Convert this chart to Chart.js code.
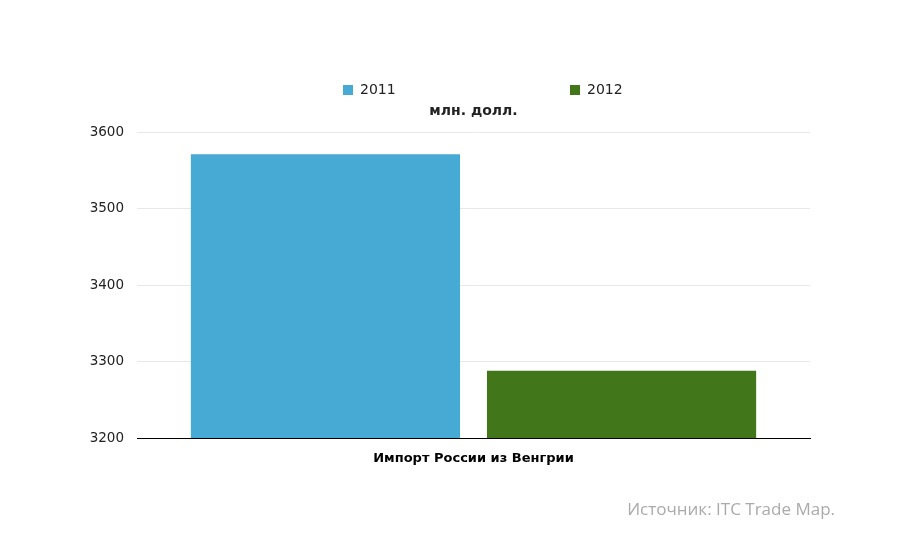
<!DOCTYPE html>
<html>
<head>
<meta charset="utf-8">
<script src="https://cdn.jsdelivr.net/npm/chart.js@4"></script>
<style>
  html, body { margin: 0; padding: 0; background: #fff; }
  #wrap { position: relative; width: 900px; height: 550px; }
  #source { position: absolute; right: 65px; top: 497px; font-family: "Open Sans", "DejaVu Sans", sans-serif; font-size: 17px; color: #aaaaaa; }
</style>
</head>
<body>
<div id="wrap">
  <canvas id="c" width="900" height="550"></canvas>
  <div id="source">Источник: ITC Trade Map.</div>
</div>
<script>
const categories = ["Импорт России из Венгрии"];
const seriesNames = ["2011", "2012"];
const values2011 = [3571];
const values2012 = [3288];
const unitLabel = "млн. долл.";
const colors = ["#46aad5", "#41761a"];

const legendPlugin = {
  id: 'customLegend',
  afterDraw(chart) {
    const ctx = chart.ctx;
    const area = chart.chartArea;
    const cx = (area.left + area.right) / 2 + 8;
    const colW = 227;
    ctx.save();
    ctx.font = '14px "DejaVu Sans", sans-serif';
    ctx.textBaseline = 'middle';
    chart.data.datasets.forEach((ds, i) => {
      const bx = (i === 0 ? cx - colW / 2 - 25 : cx + colW / 2 - 25);
      ctx.fillStyle = ds.backgroundColor;
      ctx.fillRect(bx, 85, 10, 10);
      ctx.fillStyle = '#222';
      ctx.textAlign = 'left';
      ctx.fillText(ds.label, bx + 17, 90.5);
    });
    ctx.font = 'bold 14px "DejaVu Sans", sans-serif';
    ctx.textAlign = 'center';
    ctx.fillStyle = '#222';
    ctx.fillText(unitLabel, (area.left + area.right) / 2, 111);
    ctx.restore();
  }
};

new Chart(document.getElementById('c'), {
  type: 'bar',
  data: {
    labels: categories,
    datasets: [
      { label: seriesNames[0], data: values2011, backgroundColor: colors[0] },
      { label: seriesNames[1], data: values2012, backgroundColor: colors[1] }
    ]
  },
  options: {
    responsive: false,
    animation: false,
    devicePixelRatio: 1,
    layout: { padding: { top: 132, right: 90, left: 0, bottom: 0 } },
    datasets: { bar: { categoryPercentage: 0.88, barPercentage: 0.909 } },
    plugins: {
      legend: { display: false },
      title: { display: false },
      tooltip: { enabled: false }
    },
    scales: {
      x: {
        grid: { display: false },
        border: { display: true, color: '#000', width: 1 },
        ticks: { color: '#000', padding: 5, font: { family: '"DejaVu Sans", sans-serif', size: 13, weight: 'bold' } },
        afterFit(scale) { scale.height = 112; }
      },
      y: {
        min: 3200, max: 3600,
        ticks: {
          stepSize: 100, color: '#222', padding: 13,
          font: { family: '"DejaVu Sans", sans-serif', size: 13.5 },
          callback: (v) => String(v)
        },
        grid: { color: '#e8e8e8', drawTicks: false },
        border: { display: false },
        afterFit(scale) { scale.width = 137; }
      }
    }
  },
  plugins: [legendPlugin]
});
</script>
</body>
</html>
